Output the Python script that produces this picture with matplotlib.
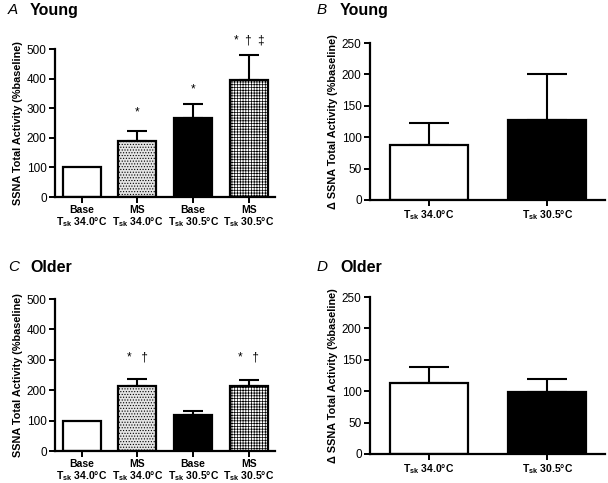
import matplotlib
matplotlib.use("Agg")
import matplotlib.pyplot as plt
import numpy as np

plt.rcParams['font.family'] = ['Liberation Sans', 'DejaVu Sans']
plt.rcParams['mathtext.fontset'] = 'custom'
plt.rcParams['mathtext.rm'] = 'Liberation Sans'
plt.rcParams['mathtext.bf'] = 'Liberation Sans:bold'
plt.rcParams['mathtext.it'] = 'Liberation Sans:italic'
plt.rcParams['mathtext.default'] = 'bf'
plt.rcParams['hatch.linewidth'] = 0.5

# ---- data ----
cond_labels = ["Base\nT$_{sk}$ 34.0°C", "MS\nT$_{sk}$ 34.0°C",
               "Base\nT$_{sk}$ 30.5°C", "MS\nT$_{sk}$ 30.5°C"]
delta_labels = ["T$_{sk}$ 34.0°C", "T$_{sk}$ 30.5°C"]

young_vals = [100, 188, 268, 395]
young_err = [0, 34, 45, 85]
young_sig = ["", "*", "*", "*  †  ‡"]
young_sig_y = [0, 284, 365, 530]

older_vals = [100, 213, 117, 215]
older_err = [0, 25, 13, 18]
older_sig = ["", "*   †", "", "*   †"]
older_sig_y = [0, 306, 0, 306]

young_delta = [88, 128]
young_delta_err = [34, 73]
older_delta = [113, 99]
older_delta_err = [26, 21]

W, H = 608, 483
fig = plt.figure(figsize=(W / 100, H / 100), dpi=100)


def ax_at(l, r, t, b):
    return fig.add_axes([l / W, 1 - b / H, (r - l) / W, (b - t) / H])


faces4 = ['white', '#e4e4e4', 'black', 'white']
hatches4 = [None, '......', None, '++++++']
faces2 = ['white', 'black']


def style(ax, ymax, ystep):
    for s in ['top', 'right']:
        ax.spines[s].set_visible(False)
    for s in ['left', 'bottom']:
        ax.spines[s].set_linewidth(1.6)
    ax.set_ylim(0, ymax)
    ax.set_yticks(np.arange(0, ymax + 1, ystep))
    ax.tick_params(axis='both', direction='out', width=1.4, length=4)
    ax.tick_params(axis='y', labelsize=8.5, pad=2)
    ax.tick_params(axis='x', labelsize=7.5, pad=2)
    for lab in ax.get_xticklabels():
        lab.set_fontweight('bold')


def cond_panel(ax, vals, err, sig, sig_y):
    x = np.arange(len(vals))
    for i in range(len(vals)):
        ax.bar(x[i], vals[i], width=0.68, color=faces4[i], edgecolor='black',
               linewidth=1.6, hatch=hatches4[i], zorder=2)
        if err[i] > 0:
            ax.errorbar(x[i], vals[i], yerr=[[0], [err[i]]], fmt='none',
                        ecolor='black', elinewidth=1.5, capsize=7.2,
                        capthick=1.5, zorder=1)
        if sig[i]:
            ax.text(x[i], sig_y[i], sig[i], ha='center', va='center',
                    fontsize=8.5, clip_on=False)
    ax.set_xlim(-0.48, 3.47)
    ax.set_xticks(x)
    ax.set_xticklabels(cond_labels, fontweight='bold', linespacing=1.0)
    style(ax, 500, 100)
    ax.set_ylabel("SSNA Total Activity (%baseline)", fontsize=7.8,
                  fontweight='bold', labelpad=3)


def delta_panel(ax, vals, err):
    x = np.arange(len(vals))
    for i in range(len(vals)):
        ax.bar(x[i], vals[i], width=0.66, color=faces2[i], edgecolor='black',
               linewidth=1.6, zorder=2)
        ax.errorbar(x[i], vals[i], yerr=[[0], [err[i]]], fmt='none',
                    ecolor='black', elinewidth=1.5, capsize=14.4,
                    capthick=1.5, zorder=1)
    ax.set_xlim(-0.5, 1.49)
    ax.set_xticks(x)
    ax.set_xticklabels(delta_labels, fontweight='bold')
    style(ax, 250, 50)
    ax.set_ylabel("Δ SSNA Total Activity (%baseline)", fontsize=7.8,
                  fontweight='bold', labelpad=3)


axA = ax_at(55, 275, 49, 197)
cond_panel(axA, young_vals, young_err, young_sig, young_sig_y)
axB = ax_at(370, 605, 43, 200)
delta_panel(axB, young_delta, young_delta_err)
axC = ax_at(55, 275, 299, 451)
cond_panel(axC, older_vals, older_err, older_sig, older_sig_y)
axD = ax_at(370, 605, 297, 454)
delta_panel(axD, older_delta, older_delta_err)

# panel titles
for (lx, tx, ty, letter, title) in [(8, 30, 10, 'A', 'Young'), (317, 340, 10, 'B', 'Young'),
                                    (8, 30, 267, 'C', 'Older'), (317, 340, 267, 'D', 'Older')]:
    fig.text(lx / W, 1 - ty / H, letter, fontsize=11, fontstyle='italic',
             ha='left', va='center')
    fig.text(tx / W, 1 - ty / H, title, fontsize=11.5, fontweight='bold',
             ha='left', va='center')

fig.savefig("out.png", dpi=100)
